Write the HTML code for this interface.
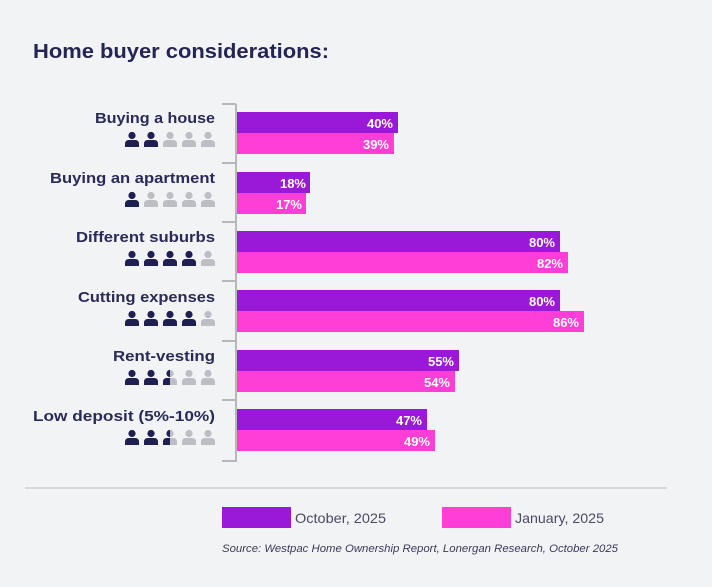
<!DOCTYPE html>
<html><head><meta charset="utf-8"><style>
html,body{margin:0;padding:0;background:#f2f3f5;}
svg{display:block;font-family:"Liberation Sans",sans-serif;}
</style></head><body>
<svg width="712" height="587" viewBox="0 0 712 587" xmlns="http://www.w3.org/2000/svg">
<defs>
<g id="p"><circle cx="0" cy="-4.5" r="3.6"/><path d="M-7,7 L-7,4 Q-7,0 -3,0 L3,0 Q7,0 7,4 L7,7 Z"/></g>
<clipPath id="hl"><rect x="-8" y="-10" width="8" height="20"/></clipPath>
</defs>
<rect width="712" height="587" fill="#f2f3f5"/>
<text x="33" y="58" font-size="20" font-weight="bold" fill="#252553" textLength="296" lengthAdjust="spacingAndGlyphs">Home buyer considerations:</text>
<g stroke="#b8b8b8" stroke-width="2" fill="none">
<line x1="236" y1="104" x2="236" y2="462"/>
<line x1="222" y1="104" x2="236" y2="104"/>
<line x1="222" y1="163" x2="236" y2="163"/>
<line x1="222" y1="222" x2="236" y2="222"/>
<line x1="222" y1="281" x2="236" y2="281"/>
<line x1="222" y1="341" x2="236" y2="341"/>
<line x1="222" y1="400" x2="236" y2="400"/>
<line x1="222" y1="461" x2="236" y2="461"/>
</g>
<g font-size="13" font-weight="bold" fill="#fff" text-anchor="end">
<rect x="237" y="112" width="161" height="21" fill="#9a18d8"/><text x="393" y="128">40%</text>
<rect x="237" y="133" width="157" height="21" fill="#ff3ed8"/><text x="389" y="149">39%</text>
<rect x="237" y="172" width="73" height="21" fill="#9a18d8"/><text x="306" y="188">18%</text>
<rect x="237" y="193" width="69" height="21" fill="#ff3ed8"/><text x="302" y="209">17%</text>
<rect x="237" y="231" width="323" height="21" fill="#9a18d8"/><text x="555" y="247">80%</text>
<rect x="237" y="252" width="331" height="21" fill="#ff3ed8"/><text x="563" y="268">82%</text>
<rect x="237" y="290" width="323" height="21" fill="#9a18d8"/><text x="555" y="306">80%</text>
<rect x="237" y="311" width="347" height="21" fill="#ff3ed8"/><text x="579" y="327">86%</text>
<rect x="237" y="350" width="222" height="21" fill="#9a18d8"/><text x="454" y="366">55%</text>
<rect x="237" y="371" width="218" height="21" fill="#ff3ed8"/><text x="450" y="387">54%</text>
<rect x="237" y="409" width="190" height="21" fill="#9a18d8"/><text x="422" y="425">47%</text>
<rect x="237" y="430" width="198" height="21" fill="#ff3ed8"/><text x="430" y="446">49%</text>
</g>
<g font-size="15" font-weight="bold" fill="#2a2a58" lengthAdjust="spacingAndGlyphs">
<text x="95" y="123" textLength="120" lengthAdjust="spacingAndGlyphs">Buying a house</text>
<text x="50" y="183" textLength="165" lengthAdjust="spacingAndGlyphs">Buying an apartment</text>
<text x="76" y="242" textLength="139" lengthAdjust="spacingAndGlyphs">Different suburbs</text>
<text x="78" y="302" textLength="137" lengthAdjust="spacingAndGlyphs">Cutting expenses</text>
<text x="113" y="361" textLength="102" lengthAdjust="spacingAndGlyphs">Rent-vesting</text>
<text x="33" y="421" textLength="182" lengthAdjust="spacingAndGlyphs">Low deposit (5%-10%)</text>
</g>
<g fill="#bdbdc4">
<g transform="translate(0,140)"><use href="#p" x="132"/><use href="#p" x="151"/><use href="#p" x="170"/><use href="#p" x="189"/><use href="#p" x="208"/></g>
<g transform="translate(0,200)"><use href="#p" x="132"/><use href="#p" x="151"/><use href="#p" x="170"/><use href="#p" x="189"/><use href="#p" x="208"/></g>
<g transform="translate(0,259)"><use href="#p" x="132"/><use href="#p" x="151"/><use href="#p" x="170"/><use href="#p" x="189"/><use href="#p" x="208"/></g>
<g transform="translate(0,319)"><use href="#p" x="132"/><use href="#p" x="151"/><use href="#p" x="170"/><use href="#p" x="189"/><use href="#p" x="208"/></g>
<g transform="translate(0,378)"><use href="#p" x="132"/><use href="#p" x="151"/><use href="#p" x="170"/><use href="#p" x="189"/><use href="#p" x="208"/></g>
<g transform="translate(0,438)"><use href="#p" x="132"/><use href="#p" x="151"/><use href="#p" x="170"/><use href="#p" x="189"/><use href="#p" x="208"/></g>
</g>
<g fill="#1f1f52">
<g transform="translate(0,140)"><use href="#p" x="132"/><use href="#p" x="151"/></g>
<g transform="translate(0,200)"><use href="#p" x="132"/></g>
<g transform="translate(0,259)"><use href="#p" x="132"/><use href="#p" x="151"/><use href="#p" x="170"/><use href="#p" x="189"/></g>
<g transform="translate(0,319)"><use href="#p" x="132"/><use href="#p" x="151"/><use href="#p" x="170"/><use href="#p" x="189"/></g>
<g transform="translate(0,378)"><use href="#p" x="132"/><use href="#p" x="151"/><g transform="translate(170,0)"><use href="#p" clip-path="url(#hl)"/></g></g>
<g transform="translate(0,438)"><use href="#p" x="132"/><use href="#p" x="151"/><g transform="translate(170,0)"><use href="#p" clip-path="url(#hl)"/></g></g>
</g>
<line x1="25" y1="488" x2="667" y2="488" stroke="#cfcfd4" stroke-width="1.5"/>
<rect x="222" y="507" width="69" height="21" fill="#9a18d8"/>
<text x="295" y="523" font-size="14" fill="#4a4a66" textLength="91" lengthAdjust="spacingAndGlyphs">October, 2025</text>
<rect x="442" y="507" width="69" height="21" fill="#ff3ed8"/>
<text x="515" y="523" font-size="14" fill="#4a4a66" textLength="89" lengthAdjust="spacingAndGlyphs">January, 2025</text>
<text x="222" y="552" font-size="11" font-style="italic" fill="#3a3a5a" textLength="396" lengthAdjust="spacingAndGlyphs">Source: Westpac Home Ownership Report, Lonergan Research, October 2025</text>
</svg>
</body></html>
